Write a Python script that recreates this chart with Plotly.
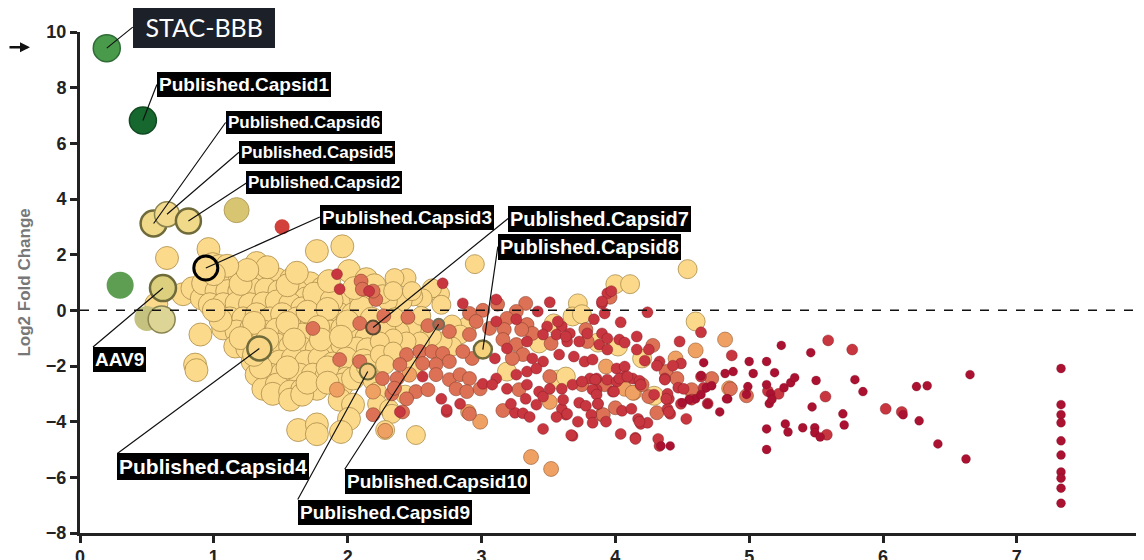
import plotly.graph_objects as go

# ---------------- data ----------------
YELLOW_BIG = [
    (0.65, 1.88), (0.96, 2.20), (0.99, 1.66), (1.04, 1.59), (1.12, 1.23), (1.19, 1.30), (1.32, 1.70),
    (1.27, 1.16), (1.39, 1.30), (1.47, 1.12), (1.58, 1.12), (1.72, 0.97), (1.81, 0.79), (1.92, 0.58),
    (2.01, 1.41), (2.14, 1.12), (1.96, 2.30), (1.77, 2.13),
    (0.57, 0.22), (0.77, 0.58), (0.84, 0.79), (0.91, 0.43), (0.92, 0.97), (1.02, 0.69), (1.10, 0.69),
    (1.19, 0.69), (1.29, 0.76), (1.39, 0.76), (1.49, 0.69), (1.62, 0.69), (1.69, 0.43), (1.80, 0.32),
    (0.97, 0.22), (1.07, 0.22), (1.17, 0.25), (1.27, 0.22), (1.37, 0.25), (1.47, 0.32), (1.57, 0.22),
    (1.66, 0.07), (1.92, 0.14), (2.01, 0.32), (1.94, -0.14), (2.04, -0.14),
    (1.12, -0.29), (1.22, -0.29), (1.32, -0.14), (1.42, -0.29), (1.51, -0.14), (1.62, -0.29),
    (1.73, -0.32), (1.83, -0.29),
    (1.07, -0.65), (1.17, -0.76), (1.28, -0.65), (1.37, -0.76), (1.47, -0.69), (1.57, -0.76),
    (1.66, -0.87), (1.87, -0.76), (1.96, -0.65), (2.04, -1.01), (2.14, -1.01),
    (1.16, -1.30), (1.25, -1.37), (1.47, -1.23), (1.57, -1.30), (1.66, -1.37), (1.77, -1.37),
    (1.87, -1.37), (1.96, -1.23), (2.07, -1.37),
    (1.29, -1.84), (1.39, -1.77), (1.49, -1.84), (1.59, -1.73), (1.69, -1.84), (1.79, -1.73),
    (1.89, -1.91), (1.99, -1.73),
    (1.32, -2.31), (1.42, -2.31), (1.51, -2.27), (1.64, -2.31), (1.74, -2.31), (1.84, -2.38), (1.99, -2.45),
    (1.37, -2.82), (1.47, -2.67), (1.44, -3.00), (1.57, -2.92), (1.66, -2.85), (1.77, -2.82),
    (1.96, -2.67), (2.04, -2.45),
    (1.57, -3.21), (1.66, -3.03), (1.94, -3.21), (2.04, -3.39), (2.01, -3.90), (1.95, -4.37),
    (1.63, -4.30), (1.77, -4.10), (1.77, -4.45),
    (0.90, -0.87), (0.86, -1.95), (0.87, -2.15),
    (1.75, 0.60), (1.88, 0.35), (2.10, 0.40), (2.10, 0.10), (2.18, -0.30), (1.70, -0.05), (1.85, 0.05),
    (2.00, -0.40), (1.78, -0.60), (1.55, -0.45), (1.30, -0.45), (1.40, -1.05), (1.60, -1.05),
    (1.80, -1.05), (1.95, -0.95), (2.15, -1.40), (1.20, -1.00), (1.05, -0.35), (1.00, 0.00),
    (2.12, -1.80), (2.10, -2.20), (1.85, -2.05), (1.55, -2.05), (1.35, -2.05), (1.30, -1.60),
    (1.70, -2.60), (1.85, -2.60), (2.20, -2.50), (2.15, -2.00), (1.20, 0.95), (1.55, 0.90),
    (1.40, 1.55), (1.25, 1.45), (1.10, 1.60), (1.00, 1.30), (1.62, 1.35), (1.86, 1.05),
    (2.20, 0.90), (2.05, 0.80),
]

YELLOW_MID = [
    (2.44, 1.16), (2.35, 1.16), (2.95, 1.66), (2.69, 0.58), (2.63, 0.79), (2.56, 0.43), (2.49, 0.50),
    (2.41, 0.32), (2.30, 0.32), (2.26, 0.58), (2.34, 0.69), (2.48, 0.69), (2.70, 0.20),
    (3.72, 0.25), (3.68, -0.22), (3.75, -0.14), (3.54, -0.47), (2.89, -0.58), (2.78, -0.51),
    (2.84, -0.87), (2.56, -0.76), (2.48, -0.65), (2.39, -0.76), (2.29, -0.69),
    (3.43, -1.19), (2.78, -1.30), (2.71, -1.12), (2.63, -0.94), (2.54, -1.12), (2.44, -1.12),
    (2.34, -1.01), (2.24, -1.12), (2.24, -1.59), (2.34, -1.48), (2.49, -2.02), (2.28, -1.95),
    (3.57, -2.49), (3.63, -2.38), (2.22, -2.92), (2.43, -3.03), (2.22, -3.36), (2.31, -3.54),
    (2.51, -4.48), (2.33, -3.72), (2.28, -4.30), (2.35, -0.25), (2.55, -0.20),
    (4.00, 0.94), (4.11, 0.94), (4.54, 1.48), (4.60, -0.40), (3.87, -1.16), (4.02, -1.30),
    (4.20, -1.73), (4.29, -3.07), (3.19, -2.20),
]

ORANGE = [
    (4.85, -2.80), (4.60, -1.44), (4.07, -2.82), (4.14, -2.96), (3.37, -5.27), (3.52, -5.70),
    (2.99, -4.00), (4.45, -1.73), (4.13, -2.96), (3.93, -2.02), (1.92, -2.85), (2.19, -2.92),
    (2.28, -4.33), (2.90, -3.65), (3.51, -3.29), (2.46, -2.31), (4.82, -1.05),
]

SALMON = [
    (1.74, -0.65), (2.09, -0.47), (2.09, -1.84), (1.94, -1.77), (2.19, -3.75), (2.10, 1.05), (2.11, 0.76),
    (2.21, 0.39), (2.19, 0.69), (3.12, 0.22), (3.33, 0.25), (2.91, -0.11), (3.01, 0.00), (2.96, -0.40),
    (3.26, -0.04), (3.19, -0.29), (3.34, -0.51), (3.78, -0.69), (3.38, -0.83), (3.30, -0.69),
    (3.17, -0.69), (3.06, -0.65), (2.76, -0.76), (2.91, -0.87), (3.16, -1.05), (3.26, -1.23),
    (3.52, -1.19), (3.79, -1.12), (3.31, -1.59), (3.23, -1.73), (2.93, -1.73), (2.86, -1.48),
    (2.44, -1.59), (2.54, -1.48), (2.63, -1.48), (2.71, -1.55), (2.76, -1.84), (2.66, -1.95),
    (2.56, -1.91), (2.39, -1.95), (2.26, -2.45), (2.37, -2.45), (2.66, -2.31), (2.76, -2.49),
    (2.84, -2.31), (2.91, -2.45), (3.51, -2.38), (3.75, -2.67), (2.33, -3.00), (2.51, -2.92),
    (2.60, -2.85), (2.81, -2.82), (2.89, -2.92), (2.99, -2.82), (3.28, -2.85), (2.41, -3.65),
    (2.91, -3.72), (3.16, -3.60), (2.44, -3.18), (3.90, -3.75), (4.00, -3.50), (4.25, -3.10),
    (4.57, -2.92), (4.72, -2.45), (4.31, -3.68), (3.96, 0.47), (4.28, -1.26), (4.38, -2.20),
    (4.46, -2.45), (3.92, -2.67), (4.20, -2.67), (4.57, -2.85), (4.86, -2.82), (4.98, -3.07),
    (3.91, -3.75), (2.27, -0.20), (2.45, -0.25), (2.60, -0.55), (2.35, -2.80),
]

RED = [
    (1.92, 1.30), (1.94, 0.76), (2.16, 0.69), (2.71, 0.97), (2.86, 0.25), (3.11, 0.39), (3.51, 0.29),
    (3.42, -0.04), (3.11, -0.40), (3.26, -0.32), (3.49, -0.58), (3.60, -0.58), (3.66, -0.83),
    (3.56, -0.87), (3.46, -0.87), (3.19, -1.37), (3.34, -1.12), (3.64, -1.12), (3.73, -1.12),
    (3.58, -1.59), (3.69, -1.66), (3.77, -1.84), (3.46, -1.84), (3.38, -1.73), (3.10, -1.73),
    (2.56, -2.38), (3.01, -2.64), (3.11, -2.45), (3.26, -2.31), (3.34, -2.20), (3.41, -2.09),
    (3.68, -2.67), (3.81, -2.45), (2.70, -3.18), (3.08, -2.67), (3.19, -2.82), (3.34, -2.67),
    (3.43, -2.92), (3.60, -2.82), (2.74, -3.65), (3.46, -4.26), (3.68, -4.51), (3.72, -4.00),
    (3.63, -3.75), (3.25, -3.68), (3.31, -3.70), (3.36, -3.83), (3.60, -3.54), (3.64, -3.72),
    (3.73, -3.32), (3.78, -3.43), (3.87, -3.36), (3.98, -2.92), (3.86, -2.85), (3.75, -2.56),
    (3.86, -2.45), (3.61, -3.21), (3.56, -3.83), (3.33, -3.18), (3.46, -3.10), (3.51, -2.82),
    (3.41, -3.39), (3.22, -3.36), (2.84, -3.36), (2.74, -3.57), (2.39, -3.65), (3.67, -4.48),
    (3.94, 0.61), (3.90, 0.25), (3.92, -0.11), (3.84, -0.32), (4.04, -0.43), (3.90, 0.32),
    (3.88, -1.23), (3.79, -0.83), (3.63, -0.94), (3.57, -0.40), (3.90, -0.83), (3.94, -1.01),
    (4.03, -1.05), (4.07, -1.16), (4.16, -0.94), (4.25, -1.41), (4.16, -1.41), (3.94, -1.41),
    (4.48, -1.12), (3.83, -1.77), (4.22, -1.81), (4.33, -1.84), (4.49, -1.91), (4.01, -2.09),
    (4.07, -2.02), (4.31, -1.99), (4.43, -1.99), (4.37, -2.45), (3.85, -2.49), (3.94, -2.49),
    (4.01, -2.56), (4.07, -2.38), (4.13, -2.45), (4.18, -2.53), (4.47, -2.78), (4.51, -2.82),
    (3.83, -2.85), (3.99, -2.92), (3.86, -3.03), (4.40, -3.18), (4.39, -3.00), (3.87, -3.36),
    (4.05, -3.61), (4.12, -3.54), (4.39, -3.54), (4.41, -3.72), (3.82, -3.75), (4.17, -3.90),
    (4.19, -4.08), (4.24, -4.04), (3.83, -4.04), (3.93, -4.00), (4.04, -4.44), (4.15, -4.58),
    (4.33, -4.87), (4.03, -2.45), (4.09, -2.38), (4.19, -2.67), (4.29, -3.03), (4.37, -2.49),
    (4.38, -3.18), (4.49, -3.36), (4.57, -3.21), (4.18, -4.00), (4.32, -4.62), (4.15, -4.62),
    (4.40, -3.65), (4.53, -3.90), (4.64, -2.38), (4.66, -2.78), (4.69, -3.35), (3.97, 0.69),
    (4.24, -0.07), (4.64, -0.79), (4.87, -1.62), (5.14, -2.90), (5.22, -3.00), (5.59, -1.08),
    (5.57, -3.10), (5.77, -1.41), (5.58, -4.47), (6.02, -3.54), (6.14, -3.65),
]

DARK_RED = [
    (4.41, -4.87), (4.34, -4.87), (4.78, -3.65), (4.84, -3.18), (4.98, -3.02), (4.99, -2.74),
    (5.13, -2.67), (5.15, -3.35), (5.13, -4.26), (5.13, -5.00), (5.00, -1.84), (5.13, -1.84),
    (5.03, -2.27), (4.88, -2.20), (4.82, -2.27), (4.66, -1.88), (4.64, -2.35), (4.68, -2.78),
    (4.72, -2.71), (4.83, -3.18), (4.69, -3.36), (4.60, -3.18), (4.64, -3.03), (4.55, -3.21),
    (4.50, -3.32), (5.24, -1.26), (5.19, -2.24), (5.16, -3.00), (5.17, -3.20), (5.26, -2.78),
    (5.31, -2.60), (5.34, -2.42), (5.46, -1.52), (5.50, -2.52), (5.47, -3.47), (5.79, -2.49),
    (5.85, -2.92), (5.70, -3.72), (5.71, -4.12), (5.27, -4.08), (5.29, -4.37), (5.40, -4.22),
    (5.49, -4.22), (5.49, -4.40), (5.53, -4.55), (6.15, -3.75), (6.25, -2.74), (6.33, -2.71),
    (6.27, -3.97), (6.41, -4.80), (6.65, -2.31), (6.62, -5.34),
    (7.33, -2.09), (7.33, -3.39), (7.33, -3.75), (7.33, -4.04), (7.33, -4.69), (7.33, -5.20),
    (7.33, -5.81), (7.33, -6.03), (7.33, -6.39), (7.33, -6.93),
]

# highlighted capsids
LABELS = ["STAC-BBB", "Published.Capsid1", "Published.Capsid6", "Published.Capsid5",
          "Published.Capsid2", "Published.Capsid3", "AAV9", "Published.Capsid4",
          "Published.Capsid7", "Published.Capsid10", "Published.Capsid9", "Published.Capsid8"]
LABEL_X = [0.20, 0.47, 0.55, 0.65, 0.81, 0.94, 0.62, 1.34, 2.19, 2.68, 2.15, 3.01]
LABEL_Y = [9.42, 6.82, 3.12, 3.45, 3.21, 1.52, 0.80, -1.37, -0.62, -0.50, -2.20, -1.41]

# other distinct unlabeled points
OTHER_X = [0.30, 0.50, 0.61, 1.17, 1.51]
OTHER_Y = [0.90, -0.29, -0.33, 3.60, 3.00]

Y_TITLE = "Log2 Fold Change"

# ---------------- figure ----------------
fig = go.Figure()

groups = [
    (YELLOW_BIG, 23, "#FCDA8C", "rgba(165,135,70,0.75)", 1.0),
    (YELLOW_MID, 19, "#FCD98A", "rgba(165,135,70,0.75)", 1.0),
    (ORANGE, 15, "#EFA163", "rgba(140,80,40,0.55)", 1.0),
    (SALMON, 14, "#DD7155", "rgba(130,60,40,0.55)", 1.0),
    (RED, 11, "#C8363F", "rgba(110,20,30,0.45)", 0.8),
    (DARK_RED, 9, "#AB1232", "rgba(90,10,25,0.35)", 0.6),
]
for pts, size, col, lc, lw in groups:
    fig.add_trace(go.Scatter(
        x=[p[0] for p in pts], y=[p[1] for p in pts], mode="markers",
        marker=dict(size=size, color=col, opacity=1, line=dict(color=lc, width=lw)),
        hoverinfo="skip"))

other_style = [
    ("#5E9E52", "#5E9E52", 0, 27),
    ("#C4C27E", "#C4C27E", 0, 25),
    ("#DCD596", "#8A8450", 1.5, 27),
    ("#D8C572", "#B7A060", 1, 25),
    ("#D2403C", "#D2403C", 0, 15),
]
fig.add_trace(go.Scatter(
    x=OTHER_X, y=OTHER_Y, mode="markers", hoverinfo="skip",
    marker=dict(size=[s[3] for s in other_style], color=[s[0] for s in other_style], opacity=1,
                line=dict(color=[s[1] for s in other_style], width=[s[2] for s in other_style]))))

lab_style = [  # fill, outline, outline width, size
    ("#4A9A4C", "#2F6B36", 1.5, 27),
    ("#16682F", "#0F4A20", 1.5, 27),
    ("#F1D98A", "#6F6A3A", 2.5, 26),
    ("#F3D98C", "#8A8450", 1.5, 25),
    ("#F1D98A", "#6F6A3A", 2.5, 25),
    ("#FAD98A", "#000000", 3, 24),
    ("#DCD07E", "#6F6A3A", 2.5, 26),
    ("#F8D685", "#6F6A3A", 2.5, 24),
    ("#D47A5A", "#5A4A30", 2, 14),
    ("#B8624A", "#6F6F5A", 2, 11),
    ("#F4CB80", "#6F6A3A", 2, 16),
    ("#F6D27C", "#6F6A3A", 2.5, 18),
]
fig.add_trace(go.Scatter(
    x=LABEL_X, y=LABEL_Y, mode="markers", hoverinfo="skip",
    marker=dict(size=[s[3] for s in lab_style], color=[s[0] for s in lab_style], opacity=1,
                line=dict(color=[s[1] for s in lab_style], width=[s[2] for s in lab_style]))))

# label placement: (ax, ay, xanchor, yanchor, font size)
place = [
    (26, -21, "left", "middle", 25),
    (14, -36, "left", "middle", 19),
    (72, -101, "left", "middle", 17),
    (72, -62, "left", "middle", 17),
    (58, -38, "left", "middle", 17),
    (114, -51, "left", "middle", 19),
    (-70, 59, "left", "top", 19),
    (-142, 105, "left", "top", 21),
    (135, -109, "left", "middle", 20),
    (-94, 145, "left", "top", 19),
    (-70, 128, "left", "top", 19),
    (15, -103, "left", "middle", 20),
]
annotations = []
for i, (name, x, y) in enumerate(zip(LABELS, LABEL_X, LABEL_Y)):
    ax, ay, xa, ya, fs = place[i]
    if name == "STAC-BBB":
        font = dict(family="Lato, Open Sans, sans-serif", size=fs, color="white")
        text = "&nbsp;" + name + "&nbsp;"
        bg = "#1C2029"
        pad = 5
    else:
        font = dict(family="Liberation Sans, Arial, sans-serif", size=fs, color="white", weight="bold")
        text = name
        bg = "#000000"
        pad = 1
    annotations.append(dict(
        x=x, y=y, xref="x", yref="y", text=text, showarrow=True, arrowhead=0,
        arrowwidth=1.2, arrowcolor="#111111", ax=ax, ay=ay, xanchor=xa, yanchor=ya,
        bgcolor=bg, bordercolor=bg, borderwidth=1, borderpad=pad, font=font, standoff=0))

# arrow pointing at the top of the y axis
annotations.append(dict(
    x=-0.047, y=9.45, xref="paper", yref="y", text="", showarrow=True,
    arrowhead=2, arrowsize=0.8, arrowwidth=2.5, arrowcolor="#111111", ax=-32, ay=0))

# y axis title as a rotated annotation
annotations.append(dict(
    x=-0.0526, y=0.5, xref="paper", yref="paper", text=Y_TITLE, showarrow=False,
    textangle=-90, xanchor="center", yanchor="middle",
    font=dict(family="Liberation Sans, Arial, sans-serif", size=17, color="#777777", weight="bold")))

tickfont = dict(family="Liberation Sans, Arial, sans-serif", size=18, color="#222222", weight="bold")
# the page body adds an 8px margin, so the figure is 8px smaller than the window
fig.update_layout(
    width=1136, height=552,
    margin=dict(l=72, r=0, t=24, b=27),
    paper_bgcolor="white", plot_bgcolor="white",
    showlegend=False,
    annotations=annotations,
    shapes=[dict(type="line", xref="paper", yref="y", x0=0, x1=1, y0=0, y1=0,
                 line=dict(color="#111111", width=1.5, dash="dash"), layer="above")],
    xaxis=dict(range=[0, 7.95], tick0=0, dtick=1, showline=True, linewidth=3, linecolor="#222222",
               ticks="outside", ticklen=7, tickwidth=3, tickcolor="#222222", tickfont=tickfont,
               showgrid=False, zeroline=False, automargin=False, ticklabelstandoff=-2),
    yaxis=dict(range=[-8, 10], tick0=0, dtick=2, showline=True, linewidth=3, linecolor="#222222",
               ticks="outside", ticklen=7, tickwidth=3, tickcolor="#222222", tickfont=tickfont,
               showgrid=False, zeroline=False, automargin=False),
)

fig.write_html("out.html")
